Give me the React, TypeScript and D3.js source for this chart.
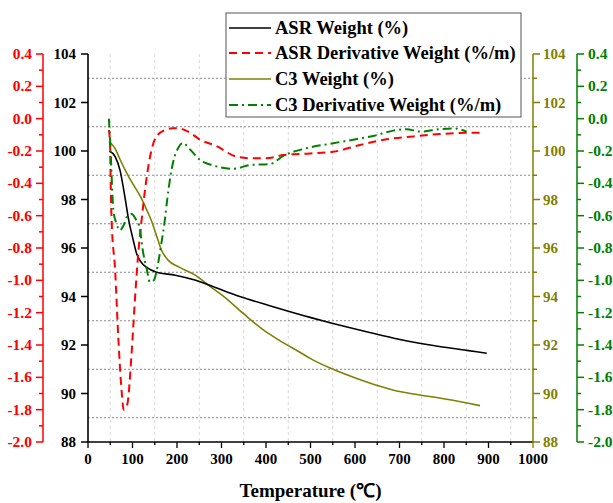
import React from "react";
import * as d3 from "d3";

const asrWeightT = [48, 61, 72, 83, 91, 102, 109, 120, 132, 154, 196, 240, 282, 341, 416, 499, 544, 626, 701, 776, 851, 896];
const asrWeight = [100.0, 99.77, 99.2, 98.1, 97.2, 96.3, 95.78, 95.4, 95.2, 95.0, 94.88, 94.68, 94.4, 94.0, 93.58, 93.14, 92.92, 92.55, 92.23, 91.98, 91.78, 91.66];

const c3WeightT = [47, 61, 72, 91, 120, 135, 143, 155, 165, 180, 203, 240, 274, 304, 349, 394, 431, 476, 499, 544, 604, 656, 700, 746, 806, 881];
const c3Weight = [100.4, 100.1, 99.65, 98.95, 98.05, 97.45, 97.1, 96.45, 95.92, 95.5, 95.23, 94.89, 94.42, 94.02, 93.3, 92.62, 92.18, 91.7, 91.45, 91.05, 90.62, 90.3, 90.08, 89.94, 89.76, 89.5];

const asrDerivT = [47, 49.5, 51, 53, 61, 68, 76, 80, 88, 98, 105, 113, 120, 132, 143, 154, 173, 190, 203, 225, 252, 289, 334, 370, 401, 439, 499, 551, 611, 671, 731, 791, 851, 881];
const asrDeriv = [-0.07, -0.15, -0.4, -0.62, -0.94, -1.35, -1.70, -1.80, -1.77, -1.45, -1.14, -0.83, -0.64, -0.36, -0.19, -0.11, -0.07, -0.06, -0.06, -0.08, -0.13, -0.17, -0.235, -0.245, -0.245, -0.225, -0.215, -0.205, -0.163, -0.128, -0.11, -0.095, -0.087, -0.087];

const c3DerivT = [47, 50, 57, 64, 72, 80, 87, 98, 109, 115, 124, 132, 139, 148, 155, 165, 173, 178, 192, 203, 213, 229, 252, 282, 327, 364, 409, 439, 491, 551, 596, 641, 686, 716, 746, 791, 821, 851];
const c3Deriv = [0.0, -0.15, -0.565, -0.65, -0.69, -0.66, -0.61, -0.59, -0.63, -0.66, -0.83, -0.93, -1.01, -1.0, -0.93, -0.77, -0.62, -0.5, -0.26, -0.18, -0.15, -0.19, -0.256, -0.29, -0.31, -0.287, -0.28, -0.23, -0.183, -0.152, -0.13, -0.107, -0.074, -0.065, -0.08, -0.065, -0.06, -0.08];

const legendLabels = ["ASR Weight (%)", "ASR Derivative Weight (%/m)", "C3 Weight (%)", "C3 Derivative Weight (%/m)"];
const xTicks = [0, 100, 200, 300, 400, 500, 600, 700, 800, 900, 1000];

const FONT = "'Liberation Serif', 'Times New Roman', serif";
const RED = "#ff0000";
const OLIVE = "#808000";
const GREEN = "#008000";

export default function App() {
  const W = 613, H = 503;
  const left = 88, right = 533, top = 54, bottom = 442;
  const x = d3.scaleLinear().domain([0, 1000]).range([left, right]);
  const yW = d3.scaleLinear().domain([88, 104]).range([bottom, top]);
  const yD = d3.scaleLinear().domain([-2, 0.4]).range([bottom, top]);

  const lineW = (ts: number[], vs: number[]) =>
    d3.line<number>().x((_, i) => x(ts[i])).y((v) => yW(v)).curve(d3.curveMonotoneX)(vs) || "";
  const lineD = (ts: number[], vs: number[]) =>
    d3.line<number>().x((_, i) => x(ts[i])).y((v) => yD(v)).curve(d3.curveMonotoneX)(vs) || "";

  const wMajor = d3.range(88, 104.01, 2);
  const wMinor = d3.range(89, 104, 2);
  const dMajor = d3.range(0, 13).map((i) => -2 + i * 0.2);
  const dMinor = d3.range(0, 12).map((i) => -1.9 + i * 0.2);
  const xMinor = d3.range(50, 1000, 100);
  const fmtD = (v: number) => (Math.round(v * 10) / 10).toFixed(1);

  const redAx = 43, greenAx = 577;

  const legendY = [28, 53, 79, 105];
  const legendStyles = [
    { stroke: "#000", dash: undefined, w: 1.6 },
    { stroke: RED, dash: "8,5", w: 2 },
    { stroke: OLIVE, dash: undefined, w: 1.6 },
    { stroke: GREEN, dash: "9,4,2,4", w: 2 },
  ];

  return (
    <svg width={W} height={H} style={{ position: "absolute", left: 0, top: 0, background: "#fff" }} fontFamily={FONT}>
      <rect x={0} y={0} width={W} height={H} fill="#fff" />
      {/* vertical grid */}
      {xMinor.map((t) => (
        <line key={"vg" + t} x1={x(t)} x2={x(t)} y1={top} y2={bottom} stroke="#d8d8d8" strokeWidth={1} strokeDasharray="3,3" />
      ))}
      {/* horizontal grid */}
      {wMinor.map((v) => (
        <line key={"hg" + v} x1={left} x2={right} y1={yW(v)} y2={yW(v)} stroke="#888" strokeWidth={1} strokeDasharray="2,2" />
      ))}

      {/* curves */}
      <path d={lineW(c3WeightT, c3Weight)} fill="none" stroke={OLIVE} strokeWidth={1.6} />
      <path d={lineW(asrWeightT, asrWeight)} fill="none" stroke="#000" strokeWidth={1.6} />
      <path d={lineD(asrDerivT, asrDeriv)} fill="none" stroke={RED} strokeWidth={2} strokeDasharray="8,5" />
      <path d={lineD(c3DerivT, c3Deriv)} fill="none" stroke={GREEN} strokeWidth={2} strokeDasharray="9,4,2,4" />

      {/* x axis */}
      <line x1={left} x2={right} y1={bottom} y2={bottom} stroke="#000" strokeWidth={1.6} />
      {xTicks.map((t) => (
        <g key={"xt" + t}>
          <line x1={x(t)} x2={x(t)} y1={bottom} y2={bottom + 6} stroke={t === 1000 ? OLIVE : "#000"} strokeWidth={1.3} />
          <text x={x(t)} y={464} textAnchor="middle" fontSize={15} fontWeight="bold" fill="#000">{t}</text>
        </g>
      ))}
      {xMinor.map((t) => (
        <line key={"xm" + t} x1={x(t)} x2={x(t)} y1={bottom} y2={bottom + 3} stroke="#000" strokeWidth={1.3} />
      ))}
      <text x={(left + right) / 2} y={497} textAnchor="middle" fontSize={19} fontWeight="bold" fill="#000">Temperature (℃)</text>

      {/* left black axis */}
      <line x1={left} x2={left} y1={top} y2={bottom} stroke="#000" strokeWidth={1.6} />
      {wMajor.map((v) => (
        <g key={"lw" + v}>
          <line x1={left - 7} x2={left} y1={yW(v)} y2={yW(v)} stroke="#000" strokeWidth={1.5} />
          <text x={76} y={yW(v) + 5} textAnchor="end" fontSize={15} fontWeight="bold" fill="#000">{v}</text>
        </g>
      ))}

      {/* red axis */}
      <line x1={redAx} x2={redAx} y1={top} y2={bottom} stroke={RED} strokeWidth={1.5} />
      {dMajor.map((v, i) => (
        <g key={"rd" + i}>
          <line x1={redAx - 7} x2={redAx} y1={yD(v)} y2={yD(v)} stroke={RED} strokeWidth={1.5} />
          <text x={32} y={yD(v) + 5} textAnchor="end" fontSize={15.5} fontWeight="bold" fill={RED}>{fmtD(v)}</text>
        </g>
      ))}
      {dMinor.map((v, i) => (
        <line key={"rm" + i} x1={redAx - 4} x2={redAx} y1={yD(v)} y2={yD(v)} stroke={RED} strokeWidth={1.5} />
      ))}

      {/* olive axis */}
      <line x1={right} x2={right} y1={top} y2={bottom} stroke={OLIVE} strokeWidth={1.5} />
      {wMajor.map((v) => (
        <g key={"ow" + v}>
          <line x1={right} x2={right + 7} y1={yW(v)} y2={yW(v)} stroke={OLIVE} strokeWidth={1.5} />
          <text x={543} y={yW(v) + 5} textAnchor="start" fontSize={15} fontWeight="bold" fill={OLIVE}>{v}</text>
        </g>
      ))}
      {wMinor.map((v) => (
        <line key={"om" + v} x1={right} x2={right + 4} y1={yW(v)} y2={yW(v)} stroke={OLIVE} strokeWidth={1.5} />
      ))}

      {/* green axis */}
      <line x1={greenAx} x2={greenAx} y1={top} y2={bottom} stroke={GREEN} strokeWidth={1.5} />
      {dMajor.map((v, i) => (
        <g key={"gd" + i}>
          <line x1={greenAx} x2={greenAx + 7} y1={yD(v)} y2={yD(v)} stroke={GREEN} strokeWidth={1.5} />
          <text x={588} y={yD(v) + 5} textAnchor="start" fontSize={15.5} fontWeight="bold" fill={GREEN}>{fmtD(v)}</text>
        </g>
      ))}
      {dMinor.map((v, i) => (
        <line key={"gm" + i} x1={greenAx} x2={greenAx + 4} y1={yD(v)} y2={yD(v)} stroke={GREEN} strokeWidth={1.5} />
      ))}

      {/* legend */}
      <rect x={226} y={13} width={295} height={104} fill="#fff" stroke="#555" strokeWidth={1} />
      {legendLabels.map((lab, i) => (
        <g key={"lg" + i}>
          <line x1={229} x2={271} y1={legendY[i]} y2={legendY[i]} stroke={legendStyles[i].stroke} strokeWidth={legendStyles[i].w} strokeDasharray={legendStyles[i].dash} />
          <text x={275} y={legendY[i] + 6} fontSize={18.5} fontWeight="bold" fill="#000">{lab}</text>
        </g>
      ))}
    </svg>
  );
}
